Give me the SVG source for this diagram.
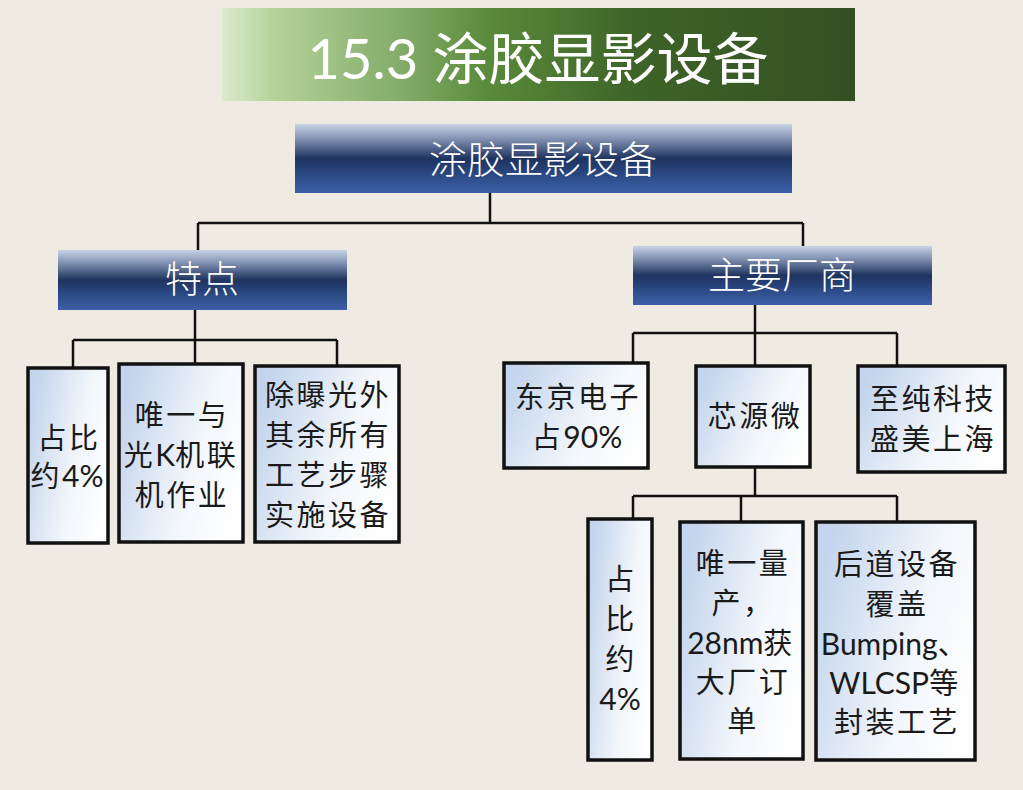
<svg xmlns="http://www.w3.org/2000/svg" width="1023" height="790" viewBox="0 0 1023 790">
<defs>
<linearGradient id="gTitle" x1="0" y1="0" x2="1" y2="0">
<stop offset="0" stop-color="#dceacd"/>
<stop offset="0.08" stop-color="#b4d39a"/>
<stop offset="0.3" stop-color="#7fa865"/>
<stop offset="0.42" stop-color="#5a8a3a"/>
<stop offset="0.65" stop-color="#3e6428"/>
<stop offset="1" stop-color="#334f22"/>
</linearGradient>
<linearGradient id="gHead" x1="0" y1="0" x2="0" y2="1">
<stop offset="0" stop-color="#c9d3e6"/>
<stop offset="0.2" stop-color="#8696b6"/>
<stop offset="0.5" stop-color="#1e335f"/>
<stop offset="0.75" stop-color="#2c4a86"/>
<stop offset="1" stop-color="#3d60a8"/>
</linearGradient>
<linearGradient id="gBox" x1="0" y1="0.3" x2="1" y2="0.7">
<stop offset="0" stop-color="#c3d4ec"/>
<stop offset="0.6" stop-color="#f2f6fb"/>
<stop offset="1" stop-color="#ffffff"/>
</linearGradient>
<style>
.head{fill:url(#gHead);}
.box{fill:url(#gBox);stroke:#111;stroke-width:3.5;}
.ht{font-family:"Noto Sans CJK SC","Noto Sans",sans-serif;fill:#fff;text-anchor:middle;font-weight:300;}
.bt{font-family:Lato,"Noto Sans CJK SC",sans-serif;fill:#1a1a1a;text-anchor:middle;font-size:29px;letter-spacing:2.5px;}
.la{letter-spacing:0;font-size:30px;}
.ln{stroke:#111;stroke-width:2.5;fill:none;}
</style>
</defs>
<rect width="1023" height="790" fill="#efebe3"/>
<g id="title">
<rect x="222" y="8" width="633" height="93" fill="url(#gTitle)"/>
<text x="538" y="79" font-family="Lato,'Noto Sans CJK SC',sans-serif" font-size="56" fill="#fff" text-anchor="middle">15.3 涂胶显影设备</text>
</g>
<g id="connectors">
<path class="ln" d="M490,193 V223 M198,223 H803 M198,223 V250 M803,223 V246"/>
<path class="ln" d="M195,310 V340 M73,340 H337 M73,340 V368 M195,340 V364 M337,340 V366"/>
<path class="ln" d="M755,305 V333 M633,333 H897 M633,333 V363 M755,333 V366 M897,333 V366"/>
<path class="ln" d="M755,467 V496 M633,496 H897 M633,496 V519 M741,496 V522 M897,496 V522"/>
</g>
<g id="root">
<rect class="head" x="295" y="124" width="497" height="69"/>
<text class="ht" x="543" y="173" font-size="38">涂胶显影设备</text>
</g>
<g id="tedian">
<rect class="head" x="58" y="250" width="289" height="60"/>
<text class="ht" x="202" y="293" font-size="37">特点</text>
</g>
<g id="changshang">
<rect class="head" x="633" y="246" width="299" height="59"/>
<text class="ht" x="782" y="289" font-size="37">主要厂商</text>
</g>
<g id="n1">
<rect class="box" x="28" y="368" width="80" height="175"/>
<text class="bt" x="69" y="449">占比</text>
<text class="bt" x="67" y="487" letter-spacing="0">约<tspan class="la">4%</tspan></text>
</g>
<g id="n2">
<rect class="box" x="119" y="364" width="124" height="178"/>
<text class="bt" x="182" y="426">唯一与</text>
<text class="bt" x="181" y="466" letter-spacing="1">光<tspan class="la">K</tspan>机联</text>
<text class="bt" x="182" y="506">机作业</text>
</g>
<g id="n3">
<rect class="box" x="255" y="366" width="144" height="176"/>
<text class="bt" x="328" y="406">除曝光外</text>
<text class="bt" x="328" y="446">其余所有</text>
<text class="bt" x="328" y="486">工艺步骤</text>
<text class="bt" x="328" y="526">实施设备</text>
</g>
<g id="n4">
<rect class="box" x="504" y="363" width="144" height="105"/>
<text class="bt" x="578" y="408">东京电子</text>
<text class="bt" x="577" y="448" letter-spacing="0">占<tspan class="la">90%</tspan></text>
</g>
<g id="n5">
<rect class="box" x="696" y="366" width="114" height="101"/>
<text class="bt" x="755" y="427">芯源微</text>
</g>
<g id="n6">
<rect class="box" x="858" y="366" width="147" height="106"/>
<text class="bt" x="933" y="410">至纯科技</text>
<text class="bt" x="933" y="450">盛美上海</text>
</g>
<g id="n7">
<rect class="box" x="588" y="519" width="64" height="241"/>
<text class="bt" x="621" y="590">占</text>
<text class="bt" x="621" y="630">比</text>
<text class="bt" x="621" y="670">约</text>
<text class="bt" x="620" y="710" letter-spacing="0"><tspan class="la">4%</tspan></text>
</g>
<g id="n8">
<rect class="box" x="680" y="522" width="123" height="237"/>
<text class="bt" x="743" y="574">唯一量</text>
<text class="bt" x="743" y="614">产，</text>
<text class="bt" x="741" y="654" letter-spacing="0"><tspan class="la">28nm</tspan>获</text>
<text class="bt" x="743" y="693">大厂订</text>
<text class="bt" x="743" y="732">单</text>
</g>
<g id="n9">
<rect class="box" x="816" y="522" width="159" height="238"/>
<text class="bt" x="897" y="575">后道设备</text>
<text class="bt" x="897" y="615">覆盖</text>
<text class="bt" x="895" y="655" letter-spacing="0"><tspan class="la">Bumping</tspan>、</text>
<text class="bt" x="895" y="694" letter-spacing="0"><tspan class="la">WLCSP</tspan>等</text>
<text class="bt" x="897" y="733">封装工艺</text>
</g>
</svg>
